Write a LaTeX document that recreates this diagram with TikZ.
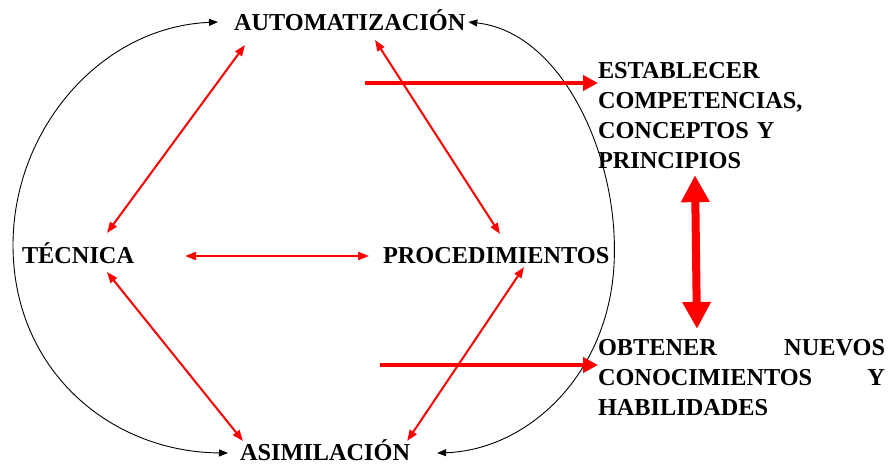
\documentclass[tikz,border=0pt]{standalone}
\usepackage{fontspec}
\setmainfont{Liberation Serif}
\usetikzlibrary{arrows.meta,calc}
\begin{document}
\begin{tikzpicture}[x=1pt,y=-1pt,
  lbl/.style={inner sep=0pt,outer sep=0pt,anchor=base west,font=\bfseries\fontsize{24.3}{30.3}\selectfont},
  blk/.style={lbl,align=left},
  blackarc/.style={draw=black,line width=0.9pt,{Triangle[length=9pt,width=7pt]}-{Triangle[length=9pt,width=7pt]}},
  thinred/.style={draw=red,line width=2pt,{Triangle[length=11pt,width=8pt]}-{Triangle[length=11pt,width=8pt]}},
  thickred/.style={draw=red,line width=4pt,-{Triangle[length=15pt,width=15pt]}},
  bigred/.style={draw=red,line width=8pt,{Triangle[length=27pt,width=27pt]}-{Triangle[length=27pt,width=27pt]}}]
\useasboundingbox (0,0) rectangle (891,464);
\node[lbl] (auto) at (234,30) {AUTOMATIZACIÓN};
\node[lbl] (tec) at (22,263) {TÉCNICA};
\node[lbl] (proc) at (383,263) {PROCEDIMIENTOS};
\node[lbl] (asim) at (240,460) {ASIMILACIÓN};
\node[blk,text width=260pt] (estab) at (598,78) {ESTABLECER\\COMPETENCIAS,\\CONCEPTOS Y\\PRINCIPIOS};
\node[blk,text width=287pt] (obt) at (598,355) {OBTENER\hfill NUEVOS\\CONOCIMIENTOS\hfill Y\\HABILIDADES};
% black arcs
\draw[blackarc] ($(auto.base west)+(-16,-8)$) .. controls (100,27) and (13,130) .. ($(tec.base west)+(-9,-18)$) .. controls (13,370) and (110,452) .. ($(asim.base west)+(-12,-7)$);
\draw[blackarc] ($(auto.base east)+(3,-8)$) .. controls (560,32) and (615,150) .. ($(proc.base east)+(5,-13)$) .. controls (615,370) and (530,450) .. ($(asim.base east)+(27,-7)$);
% thin red
\draw[thinred] ($(auto.base west)+(11,15)$) -- ($(tec.base west)+(85,-30)$);
\draw[thinred] ($(tec.base west)+(85,9)$) -- ($(asim.base west)+(3,-19)$);
\draw[thinred] ($(auto.base west)+(141,10)$) -- ($(proc.base west)+(117,-29)$);
\draw[thinred] ($(proc.base west)+(141,4)$) -- ($(asim.base east)+(-3,-19)$);
\draw[thinred] ($(tec.base east)+(51,-7)$) -- ($(proc.base west)+(-14,-7)$);
% thick red
\coordinate (s1) at (365,83);
\coordinate (s2) at (380,365);
\draw[thickred] (s1) -- (s1 -| estab.west);
\draw[thickred] (s2) -- (s2 -| obt.west);
\draw[bigred] ($(estab.south west)+(97,6)$) -- ($(obt.north west)+(99,-10)$);
\end{tikzpicture}
\end{document}
